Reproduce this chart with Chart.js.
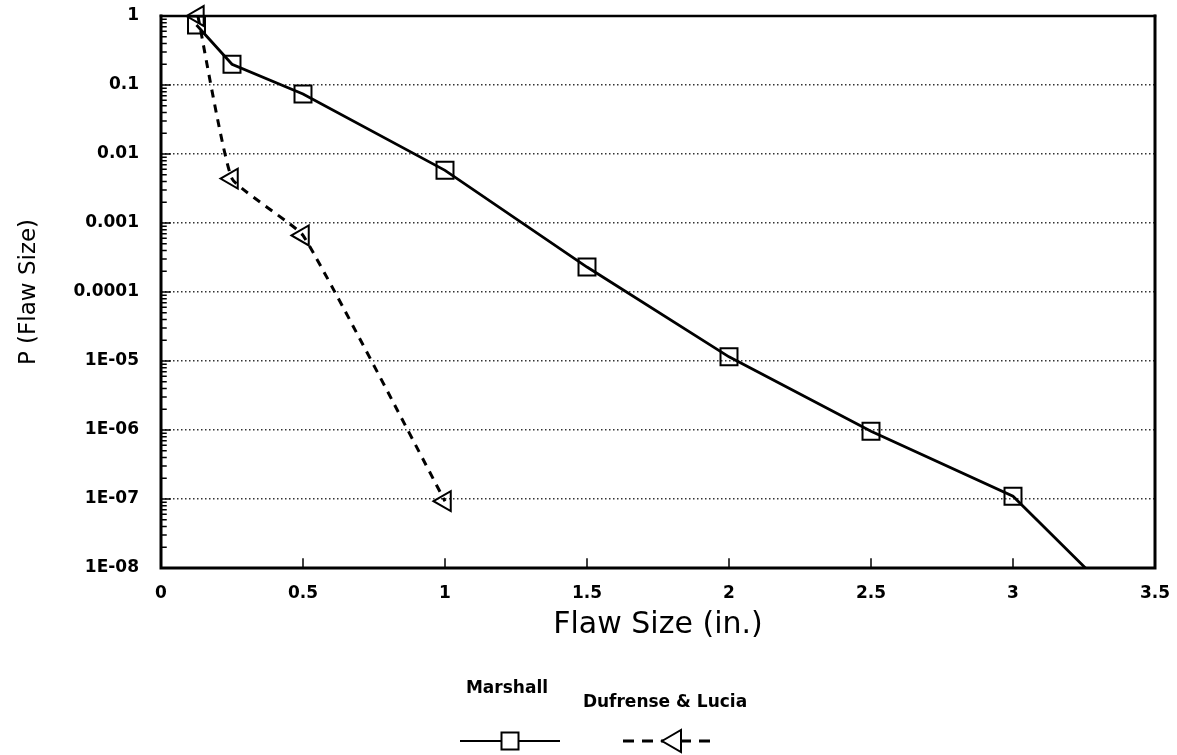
<!DOCTYPE html>
<html>
<head>
<meta charset="utf-8">
<title>P (Flaw Size)</title>
<script src="https://cdn.jsdelivr.net/npm/chart.js@4.4.1/dist/chart.umd.min.js"></script>
<style>
    html, body { margin: 0; padding: 0; background: #fff; }
    #wrap { width: 1177px; height: 755px; }
</style>
</head>
<body>
<div id="wrap"><canvas id="flawChart" width="1177" height="755"></canvas></div>
<script>
// Marshall flaw size distribution
const marshallSize = [0.125, 0.25, 0.5, 1.0, 1.5, 2.0, 2.5, 3.0, 3.5];
const marshallProb = [0.74, 0.2, 0.074, 0.0058, 0.00023, 1.15e-5, 9.6e-7, 1.1e-7, 1e-9];

// Dufrense & Lucia flaw size distribution
const dufrenseSize = [0.13, 0.25, 0.5, 1.0];
const dufrenseProb = [1.0, 0.0044, 0.00066, 9.3e-8];

// Axis ticks
const xTicks = [0, 0.5, 1, 1.5, 2, 2.5, 3, 3.5];
const xTickLabels = ['0', '0.5', '1', '1.5', '2', '2.5', '3', '3.5'];
const yTicks = [1e-8, 1e-7, 1e-6, 1e-5, 1e-4, 1e-3, 1e-2, 1e-1, 1];
const yTickLabels = ['1E-08', '1E-07', '1E-06', '1E-05', '0.0001', '0.001', '0.01', '0.1', '1'];

const tickFont = { family: 'DejaVu Sans', size: 17, weight: 'bold' };

// Box around the plot plus the inward tick marks (log minor ticks on the left)
const frameTicks = {
    id: 'frameTicks',
    beforeDatasetsDraw(chart) {
        const { ctx, chartArea: a, scales } = chart;
        ctx.save();
        ctx.strokeStyle = '#000';
        ctx.lineCap = 'square';

        ctx.lineWidth = 1.5;
        ctx.beginPath();
        for (let e = -8; e < 0; e++) {
            for (let k = 2; k <= 9; k++) {
                const y = scales.y.getPixelForValue(k * Math.pow(10, e));
                ctx.moveTo(a.left, y);
                ctx.lineTo(a.left + 5, y);
            }
        }
        yTicks.forEach(v => {
            const y = scales.y.getPixelForValue(v);
            ctx.moveTo(a.left, y);
            ctx.lineTo(a.left + 9, y);
        });
        xTicks.forEach(v => {
            const x = scales.x.getPixelForValue(v);
            ctx.moveTo(x, a.bottom);
            ctx.lineTo(x, a.bottom - 9);
        });
        ctx.stroke();

        ctx.lineWidth = 3;
        ctx.beginPath();
        ctx.moveTo(a.left, a.top);
        ctx.lineTo(a.left, a.bottom);
        ctx.lineTo(a.right, a.bottom);
        ctx.lineTo(a.right, a.top);
        ctx.stroke();
        ctx.lineWidth = 2.5;
        ctx.beginPath();
        ctx.moveTo(a.left, a.top);
        ctx.lineTo(a.right, a.top);
        ctx.stroke();
        ctx.restore();
    }
};

// Series key under the axis title: name above, line sample below
const seriesKey = {
    id: 'seriesKey',
    afterDraw(chart) {
        const ctx = chart.ctx;
        const ds = chart.data.datasets;
        ctx.save();
        ctx.fillStyle = '#000';
        ctx.strokeStyle = '#000';
        ctx.font = 'bold 17px "DejaVu Sans"';
        ctx.textAlign = 'center';
        ctx.textBaseline = 'middle';
        ctx.fillText(ds[0].label, 507, 689);
        ctx.fillText(ds[1].label, 665, 703);

        // Marshall sample
        ctx.lineWidth = 2;
        ctx.beginPath();
        ctx.moveTo(460, 741);
        ctx.lineTo(560, 741);
        ctx.stroke();
        ctx.fillStyle = '#fff';
        ctx.lineWidth = 2;
        ctx.fillRect(501.5, 732.5, 17, 17);
        ctx.strokeRect(501.5, 732.5, 17, 17);

        // Dufrense & Lucia sample
        ctx.lineWidth = 3;
        ctx.setLineDash([11, 8]);
        ctx.beginPath();
        ctx.moveTo(623, 741);
        ctx.lineTo(715, 741);
        ctx.stroke();
        ctx.setLineDash([]);
        ctx.lineWidth = 2;
        ctx.beginPath();
        ctx.moveTo(662, 741);
        ctx.lineTo(681, 730);
        ctx.lineTo(681, 752);
        ctx.closePath();
        ctx.fill();
        ctx.stroke();
        ctx.restore();
    }
};

const ctx = document.getElementById('flawChart');

new Chart(ctx, {
    type: 'line',
    data: {
        datasets: [
            {
                label: 'Marshall',
                data: marshallSize.map((x, i) => ({ x: x, y: marshallProb[i] })),
                borderColor: '#000',
                borderWidth: 2.8,
                tension: 0,
                pointStyle: 'rect',
                pointRadius: 12,
                pointBorderWidth: 2,
                pointBorderColor: '#000',
                pointBackgroundColor: 'rgba(0,0,0,0)',
                clip: { left: 15, top: 20, right: 15, bottom: 0 }
            },
            {
                label: 'Dufrense & Lucia',
                data: dufrenseSize.map((x, i) => ({ x: x, y: dufrenseProb[i] })),
                borderColor: '#000',
                borderWidth: 3,
                borderDash: [8, 7],
                tension: 0.12,
                pointStyle: 'triangle',
                pointRotation: -90,
                pointRadius: 11.5,
                pointBorderWidth: 2,
                pointBorderColor: '#000',
                pointBackgroundColor: 'rgba(0,0,0,0)',
                clip: { left: 15, top: 20, right: 15, bottom: 0 }
            }
        ]
    },
    options: {
        responsive: false,
        animation: false,
        layout: { padding: { left: 0, top: 16, right: 22, bottom: 97 } },
        plugins: {
            legend: { display: false },
            tooltip: { enabled: false }
        },
        scales: {
            x: {
                type: 'linear',
                min: 0,
                max: 3.5,
                afterBuildTicks: scale => { scale.ticks = xTicks.map(v => ({ value: v })); },
                afterFit: scale => {
                    scale.height = 90;
                    scale.paddingLeft = 0;
                    scale.paddingRight = 0;
                },
                grid: { display: false, drawTicks: false },
                border: { display: false },
                ticks: {
                    autoSkip: false,
                    maxRotation: 0,
                    padding: 15,
                    color: '#000',
                    font: tickFont,
                    callback: (value, index) => xTickLabels[index]
                },
                title: {
                    display: true,
                    text: 'Flaw Size (in.)',
                    color: '#000',
                    font: { family: 'DejaVu Sans', size: 30 },
                    padding: { top: 0, bottom: 15 }
                }
            },
            y: {
                type: 'logarithmic',
                min: 1e-8,
                max: 1,
                afterBuildTicks: scale => { scale.ticks = yTicks.map(v => ({ value: v })); },
                afterFit: scale => {
                    scale.width = 161;
                    scale.paddingTop = 0;
                    scale.paddingBottom = 0;
                },
                grid: { color: '#333', lineWidth: 1.5, drawTicks: false },
                border: { display: false, dash: [1.5, 2.5] },
                ticks: {
                    autoSkip: false,
                    padding: 22,
                    color: '#000',
                    font: tickFont,
                    callback: (value, index) => yTickLabels[index]
                },
                title: {
                    display: true,
                    text: 'P (Flaw Size)',
                    color: '#000',
                    font: { family: 'DejaVu Sans', size: 23 },
                    padding: { top: 15, bottom: 0 }
                }
            }
        }
    },
    plugins: [frameTicks, seriesKey]
});
</script>
</body>
</html>
